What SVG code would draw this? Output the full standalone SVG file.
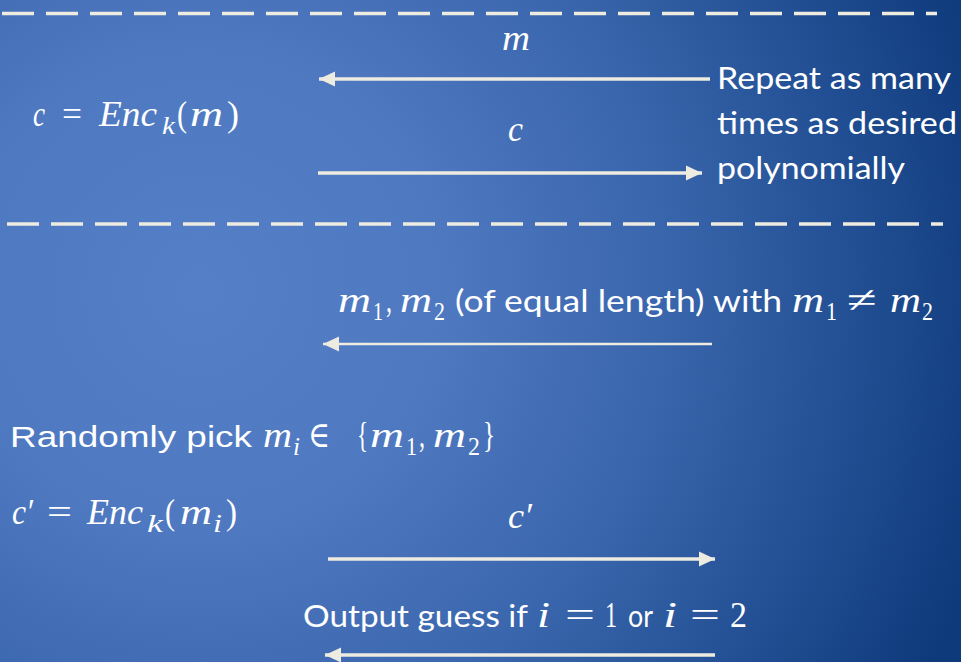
<svg xmlns="http://www.w3.org/2000/svg" width="961" height="662" viewBox="0 0 961 662">
<defs>
<radialGradient id="bg" gradientUnits="userSpaceOnUse" cx="200" cy="290" r="820" fx="200" fy="290">
<stop offset="0" stop-color="#5580C8"/>
<stop offset="0.3" stop-color="#4E78C0"/>
<stop offset="0.55" stop-color="#3B67AE"/>
<stop offset="0.8" stop-color="#224F93"/>
<stop offset="1" stop-color="#0E3A7C"/>
</radialGradient>
<marker id="ah" markerUnits="userSpaceOnUse" markerWidth="17" markerHeight="16" refX="16" refY="8" orient="auto" overflow="visible">
<path d="M0,0.5 L16,8 L0,15.5 z" fill="#EEEBE0"/>
</marker>
<style>
.w{fill:#fff}
.s{font-family:Lato,"Open Sans","Liberation Sans",sans-serif;font-size:31px}
.ar{font-family:"Liberation Sans",Arial,sans-serif;font-size:30px}
.mi{font-family:"Liberation Serif","DejaVu Serif",serif;font-style:italic;font-size:36px}
.mu{font-family:"Liberation Serif","DejaVu Serif",serif;font-size:36px}
.sub{font-size:25px}
.dash{stroke:#EEEBE0;stroke-width:3.5;stroke-dasharray:32 12;fill:none}
.arr{stroke:#EEEBE0;fill:none;marker-end:url(#ah)}
</style>
</defs>
<rect x="0" y="0" width="961" height="662" fill="url(#bg)"/>
<g id="separators">
<line class="dash" x1="2" y1="13.5" x2="937" y2="13.5"/>
<line class="dash" x1="7" y1="224" x2="943" y2="224"/>
</g>
<g id="connectors">
<line class="arr" x1="710" y1="79" x2="319" y2="79" stroke-width="3.5"/>
<line class="arr" x1="318" y1="173" x2="702" y2="173" stroke-width="3.5"/>
<line class="arr" x1="712" y1="344" x2="323" y2="344" stroke-width="2.3"/>
<line class="arr" x1="328" y1="559" x2="715" y2="559" stroke-width="3.6"/>
<line class="arr" x1="715" y1="655" x2="325" y2="655" stroke-width="3.4"/>
</g>
<g id="enc-query" class="w">
<text class="mi" x="33" y="126" textLength="12" lengthAdjust="spacingAndGlyphs">c</text>
<text class="mu" x="62" y="126" textLength="20" lengthAdjust="spacingAndGlyphs">=</text>
<text class="mi" x="99" y="126" textLength="58" lengthAdjust="spacingAndGlyphs">Enc</text>
<text class="mi sub" x="162" y="134" textLength="13" lengthAdjust="spacingAndGlyphs">k</text>
<text class="mu" x="177" y="126" textLength="10" lengthAdjust="spacingAndGlyphs">(</text>
<text class="mi" x="190" y="126" textLength="33" lengthAdjust="spacingAndGlyphs">m</text>
<text class="mu" x="227" y="126" textLength="12" lengthAdjust="spacingAndGlyphs">)</text>
</g>
<g id="label-m" class="w">
<text class="mi" x="502" y="50" textLength="28" lengthAdjust="spacingAndGlyphs">m</text>
</g>
<g id="label-c" class="w">
<text class="mi" x="508" y="141" textLength="15" lengthAdjust="spacingAndGlyphs">c</text>
</g>
<g id="repeat-note" class="w">
<text class="s" x="717" y="89" textLength="234" lengthAdjust="spacingAndGlyphs">Repeat as many</text>
<text class="s" x="717" y="134" textLength="240" lengthAdjust="spacingAndGlyphs">times as desired</text>
<text class="s" x="717" y="179" textLength="188" lengthAdjust="spacingAndGlyphs">polynomially</text>
</g>
<g id="label-challenge" class="w">
<text class="mi" x="338" y="312" textLength="33" lengthAdjust="spacingAndGlyphs">m</text>
<text class="mu sub" x="373" y="320" textLength="10" lengthAdjust="spacingAndGlyphs">1</text>
<text class="mu" x="386" y="312" textLength="6" lengthAdjust="spacingAndGlyphs">,</text>
<text class="mi" x="400" y="312" textLength="32" lengthAdjust="spacingAndGlyphs">m</text>
<text class="mu sub" x="434" y="320" textLength="11" lengthAdjust="spacingAndGlyphs">2</text>
<text class="s" x="455" y="312" textLength="327" lengthAdjust="spacingAndGlyphs">(of equal length) with</text>
<text class="mi" x="792" y="312" textLength="32" lengthAdjust="spacingAndGlyphs">m</text>
<text class="mu sub" x="826" y="320" textLength="11" lengthAdjust="spacingAndGlyphs">1</text>
<text class="mu" x="847" y="312" textLength="30" lengthAdjust="spacingAndGlyphs">≠</text>
<text class="mi" x="890" y="312" textLength="31" lengthAdjust="spacingAndGlyphs">m</text>
<text class="mu sub" x="922" y="320" textLength="11" lengthAdjust="spacingAndGlyphs">2</text>
</g>
<g id="random-pick" class="w">
<text class="ar" x="10" y="447" textLength="242" lengthAdjust="spacingAndGlyphs">Randomly pick</text>
<text class="mi" x="263" y="447" textLength="29" lengthAdjust="spacingAndGlyphs">m</text>
<text class="mi sub" x="293" y="455" textLength="7" lengthAdjust="spacingAndGlyphs">i</text>
<text class="mu" x="308" y="447" textLength="22" lengthAdjust="spacingAndGlyphs">∈</text>
<text class="mu" x="357" y="447" textLength="11" lengthAdjust="spacingAndGlyphs">{</text>
<text class="mi" x="370" y="447" textLength="34" lengthAdjust="spacingAndGlyphs">m</text>
<text class="mu sub" x="406" y="455" textLength="11" lengthAdjust="spacingAndGlyphs">1</text>
<text class="mu" x="419" y="447" textLength="6" lengthAdjust="spacingAndGlyphs">,</text>
<text class="mi" x="433" y="447" textLength="33" lengthAdjust="spacingAndGlyphs">m</text>
<text class="mu sub" x="468" y="455" textLength="12" lengthAdjust="spacingAndGlyphs">2</text>
<text class="mu" x="483" y="447" textLength="12" lengthAdjust="spacingAndGlyphs">}</text>
</g>
<g id="enc-challenge" class="w">
<text class="mi" x="12" y="524" textLength="21" lengthAdjust="spacingAndGlyphs">c′</text>
<text class="mu" x="47" y="524" textLength="25" lengthAdjust="spacingAndGlyphs">=</text>
<text class="mi" x="87" y="524" textLength="56" lengthAdjust="spacingAndGlyphs">Enc</text>
<text class="mi sub" x="147" y="532" textLength="16" lengthAdjust="spacingAndGlyphs">k</text>
<text class="mu" x="165" y="524" textLength="10" lengthAdjust="spacingAndGlyphs">(</text>
<text class="mi" x="180" y="524" textLength="32" lengthAdjust="spacingAndGlyphs">m</text>
<text class="mi sub" x="213" y="532" textLength="9" lengthAdjust="spacingAndGlyphs">i</text>
<text class="mu" x="226" y="524" textLength="11" lengthAdjust="spacingAndGlyphs">)</text>
</g>
<g id="label-cprime" class="w">
<text class="mi" x="508" y="528" textLength="24" lengthAdjust="spacingAndGlyphs">c′</text>
</g>
<g id="label-guess" class="w">
<text class="s" x="303" y="627" textLength="225" lengthAdjust="spacingAndGlyphs">Output guess if</text>
<text class="mi" x="537" y="627" textLength="13" lengthAdjust="spacingAndGlyphs">i</text>
<text class="mu" x="565" y="627" textLength="30" lengthAdjust="spacingAndGlyphs">=</text>
<text class="mu" x="605" y="627" textLength="12" lengthAdjust="spacingAndGlyphs">1</text>
<text class="s" x="628" y="627" textLength="25" lengthAdjust="spacingAndGlyphs">or</text>
<text class="mi" x="663" y="627" textLength="14" lengthAdjust="spacingAndGlyphs">i</text>
<text class="mu" x="690" y="627" textLength="30" lengthAdjust="spacingAndGlyphs">=</text>
<text class="mu" x="730" y="627" textLength="17" lengthAdjust="spacingAndGlyphs">2</text>
</g>
</svg>
